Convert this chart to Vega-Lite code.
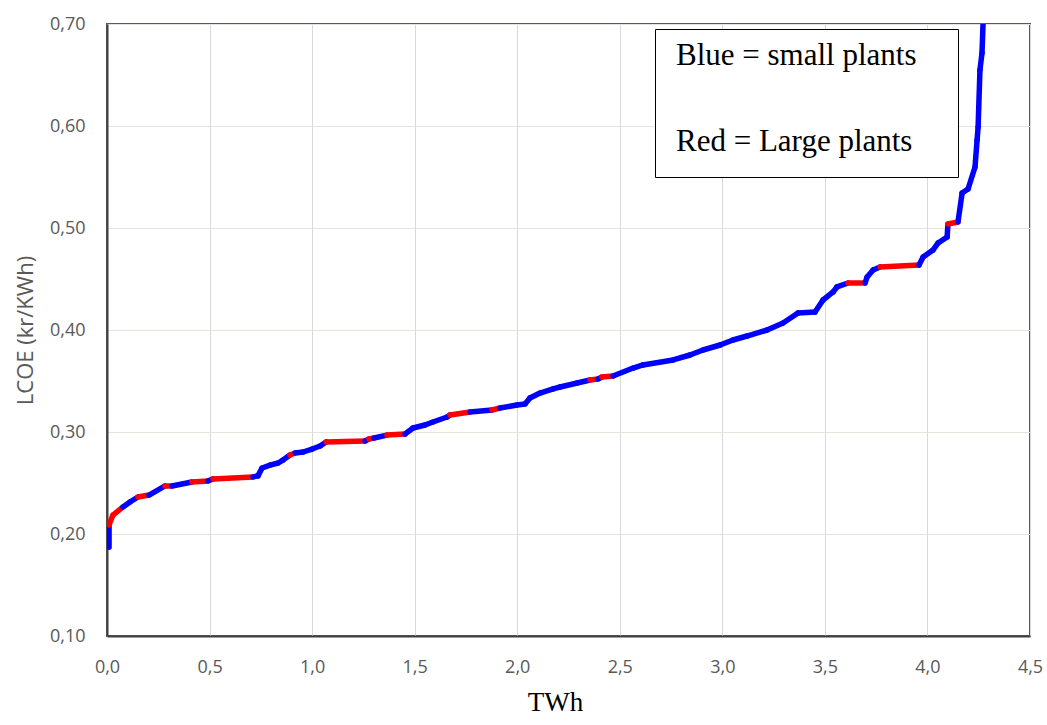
{
  "$schema": "https://vega.github.io/schema/vega-lite/v6.json",
  "width": 923,
  "height": 612,
  "autosize": {"type": "none"},
  "padding": {"left": 107, "top": 24, "right": 17, "bottom": 89},
  "background": "white",
  "config": {
    "view": {"stroke": "#5a5a5a", "strokeWidth": 2},
    "axis": {"labelFont": "Open Sans", "labelFontSize": 18, "labelColor": "#595959", "ticks": false, "domainColor": "#404040", "domainWidth": 2, "labelFlush": false}
  },
  "data": {
    "values": [
      {"twh": 0.010, "lcoe": 0.187, "plant": "small"},
      {"twh": 0.010, "lcoe": 0.209, "plant": "large"},
      {"twh": 0.029, "lcoe": 0.2186, "plant": "large"},
      {"twh": 0.078, "lcoe": 0.2265, "plant": "small"},
      {"twh": 0.112, "lcoe": 0.2314, "plant": "small"},
      {"twh": 0.151, "lcoe": 0.2363, "plant": "large"},
      {"twh": 0.205, "lcoe": 0.2382, "plant": "small"},
      {"twh": 0.283, "lcoe": 0.2471, "plant": "large"},
      {"twh": 0.317, "lcoe": 0.2471, "plant": "small"},
      {"twh": 0.414, "lcoe": 0.251, "plant": "large"},
      {"twh": 0.492, "lcoe": 0.252, "plant": "small"},
      {"twh": 0.517, "lcoe": 0.254, "plant": "large"},
      {"twh": 0.712, "lcoe": 0.256, "plant": "small"},
      {"twh": 0.736, "lcoe": 0.257, "plant": "small"},
      {"twh": 0.756, "lcoe": 0.2647, "plant": "small"},
      {"twh": 0.795, "lcoe": 0.2676, "plant": "small"},
      {"twh": 0.834, "lcoe": 0.2696, "plant": "small"},
      {"twh": 0.858, "lcoe": 0.2725, "plant": "small"},
      {"twh": 0.892, "lcoe": 0.2775, "plant": "large"},
      {"twh": 0.917, "lcoe": 0.2794, "plant": "small"},
      {"twh": 0.956, "lcoe": 0.2804, "plant": "small"},
      {"twh": 1.0, "lcoe": 0.2833, "plant": "small"},
      {"twh": 1.039, "lcoe": 0.2863, "plant": "small"},
      {"twh": 1.068, "lcoe": 0.2902, "plant": "large"},
      {"twh": 1.258, "lcoe": 0.2912, "plant": "small"},
      {"twh": 1.277, "lcoe": 0.2931, "plant": "large"},
      {"twh": 1.302, "lcoe": 0.2941, "plant": "small"},
      {"twh": 1.365, "lcoe": 0.297, "plant": "large"},
      {"twh": 1.453, "lcoe": 0.298, "plant": "small"},
      {"twh": 1.492, "lcoe": 0.3039, "plant": "small"},
      {"twh": 1.55, "lcoe": 0.3069, "plant": "small"},
      {"twh": 1.589, "lcoe": 0.3098, "plant": "small"},
      {"twh": 1.658, "lcoe": 0.3147, "plant": "small"},
      {"twh": 1.672, "lcoe": 0.3167, "plant": "large"},
      {"twh": 1.77, "lcoe": 0.3196, "plant": "small"},
      {"twh": 1.877, "lcoe": 0.3216, "plant": "large"},
      {"twh": 1.916, "lcoe": 0.3235, "plant": "small"},
      {"twh": 1.999, "lcoe": 0.3265, "plant": "small"},
      {"twh": 2.038, "lcoe": 0.3275, "plant": "small"},
      {"twh": 2.062, "lcoe": 0.3333, "plant": "small"},
      {"twh": 2.111, "lcoe": 0.3382, "plant": "small"},
      {"twh": 2.175, "lcoe": 0.3422, "plant": "small"},
      {"twh": 2.209, "lcoe": 0.3441, "plant": "small"},
      {"twh": 2.292, "lcoe": 0.348, "plant": "small"},
      {"twh": 2.355, "lcoe": 0.351, "plant": "large"},
      {"twh": 2.394, "lcoe": 0.352, "plant": "small"},
      {"twh": 2.413, "lcoe": 0.3539, "plant": "large"},
      {"twh": 2.467, "lcoe": 0.3549, "plant": "small"},
      {"twh": 2.565, "lcoe": 0.3627, "plant": "small"},
      {"twh": 2.613, "lcoe": 0.3657, "plant": "small"},
      {"twh": 2.76, "lcoe": 0.3706, "plant": "small"},
      {"twh": 2.842, "lcoe": 0.3755, "plant": "small"},
      {"twh": 2.906, "lcoe": 0.3804, "plant": "small"},
      {"twh": 2.989, "lcoe": 0.3853, "plant": "small"},
      {"twh": 3.052, "lcoe": 0.3902, "plant": "small"},
      {"twh": 3.12, "lcoe": 0.3941, "plant": "small"},
      {"twh": 3.218, "lcoe": 0.4, "plant": "small"},
      {"twh": 3.296, "lcoe": 0.4069, "plant": "small"},
      {"twh": 3.369, "lcoe": 0.4167, "plant": "small"},
      {"twh": 3.452, "lcoe": 0.4176, "plant": "small"},
      {"twh": 3.491, "lcoe": 0.4294, "plant": "small"},
      {"twh": 3.54, "lcoe": 0.4373, "plant": "small"},
      {"twh": 3.559, "lcoe": 0.4422, "plant": "small"},
      {"twh": 3.613, "lcoe": 0.4461, "plant": "large"},
      {"twh": 3.696, "lcoe": 0.4461, "plant": "small"},
      {"twh": 3.706, "lcoe": 0.452, "plant": "small"},
      {"twh": 3.735, "lcoe": 0.4588, "plant": "small"},
      {"twh": 3.769, "lcoe": 0.4618, "plant": "large"},
      {"twh": 3.959, "lcoe": 0.4637, "plant": "small"},
      {"twh": 3.979, "lcoe": 0.4716, "plant": "small"},
      {"twh": 4.027, "lcoe": 0.4784, "plant": "small"},
      {"twh": 4.052, "lcoe": 0.4853, "plant": "small"},
      {"twh": 4.096, "lcoe": 0.4912, "plant": "small"},
      {"twh": 4.1, "lcoe": 0.5039, "plant": "large"},
      {"twh": 4.149, "lcoe": 0.5059, "plant": "small"},
      {"twh": 4.169, "lcoe": 0.5343, "plant": "small"},
      {"twh": 4.198, "lcoe": 0.5382, "plant": "small"},
      {"twh": 4.232, "lcoe": 0.5598, "plant": "small"},
      {"twh": 4.242, "lcoe": 0.5863, "plant": "small"},
      {"twh": 4.247, "lcoe": 0.599, "plant": "small"},
      {"twh": 4.256, "lcoe": 0.6549, "plant": "small"},
      {"twh": 4.266, "lcoe": 0.6716, "plant": "small"},
      {"twh": 4.271, "lcoe": 0.70, "plant": "small"}
    ]
  },
  "transform": [
    {"window": [{"op": "lead", "field": "twh", "as": "twh2"}, {"op": "lead", "field": "lcoe", "as": "lcoe2"}], "sort": [{"field": "twh"}, {"field": "lcoe"}]},
    {"filter": "datum.twh2 != null"}
  ],
  "mark": {"type": "rule", "strokeWidth": 5.5, "strokeCap": "round", "clip": true},
  "encoding": {
    "x": {
      "field": "twh", "type": "quantitative",
      "scale": {"domain": [0, 4.5], "nice": false, "zero": false},
      "axis": {
        "values": [0, 0.5, 1, 1.5, 2, 2.5, 3, 3.5, 4, 4.5],
        "labelExpr": "replace(format(datum.value, '.1f'), '.', ',')",
        "labelPadding": 22,
        "gridColor": "#d9d9d9",
        "title": "TWh",
        "titleFont": "Liberation Serif", "titleFontSize": 27, "titleFontWeight": "normal", "titleColor": "black",
        "titleX": 448, "titleY": 74, "titleBaseline": "alphabetic"
      }
    },
    "x2": {"field": "twh2"},
    "y": {
      "field": "lcoe", "type": "quantitative",
      "scale": {"domain": [0.1, 0.7], "nice": false, "zero": false},
      "axis": {
        "values": [0.1, 0.2, 0.3, 0.4, 0.5, 0.6, 0.7],
        "labelExpr": "replace(format(datum.value, '.2f'), '.', ',')",
        "labelPadding": 22,
        "gridColor": "#e6e2dc",
        "title": "LCOE (kr/KWh)",
        "titleFont": "Open Sans", "titleFontSize": 22, "titleFontWeight": "normal", "titleColor": "#595959",
        "titlePadding": 12
      }
    },
    "y2": {"field": "lcoe2"},
    "color": {
      "field": "plant", "type": "nominal",
      "scale": {"domain": ["small", "large"], "range": ["#0000ff", "#ff0000"]},
      "legend": {
        "orient": "none", "legendX": 548, "legendY": 5,
        "title": " ", "titleOrient": "right", "titlePadding": 22, "titleFontSize": 2,
        "labelExpr": "datum.value == 'small' ? 'Blue = small plants' : 'Red = Large plants'",
        "labelFont": "Liberation Serif", "labelFontSize": 31, "labelColor": "black", "labelLimit": 500, "labelAlign": "left", "labelBaseline": "alphabetic",
        "symbolSize": 0, "symbolOpacity": 0, "symbolStrokeWidth": 0, "labelOffset": -30,
        "padding": 20, "rowPadding": 54,
        "strokeColor": "black", "fillColor": "white"
      }
    }
  }
}
